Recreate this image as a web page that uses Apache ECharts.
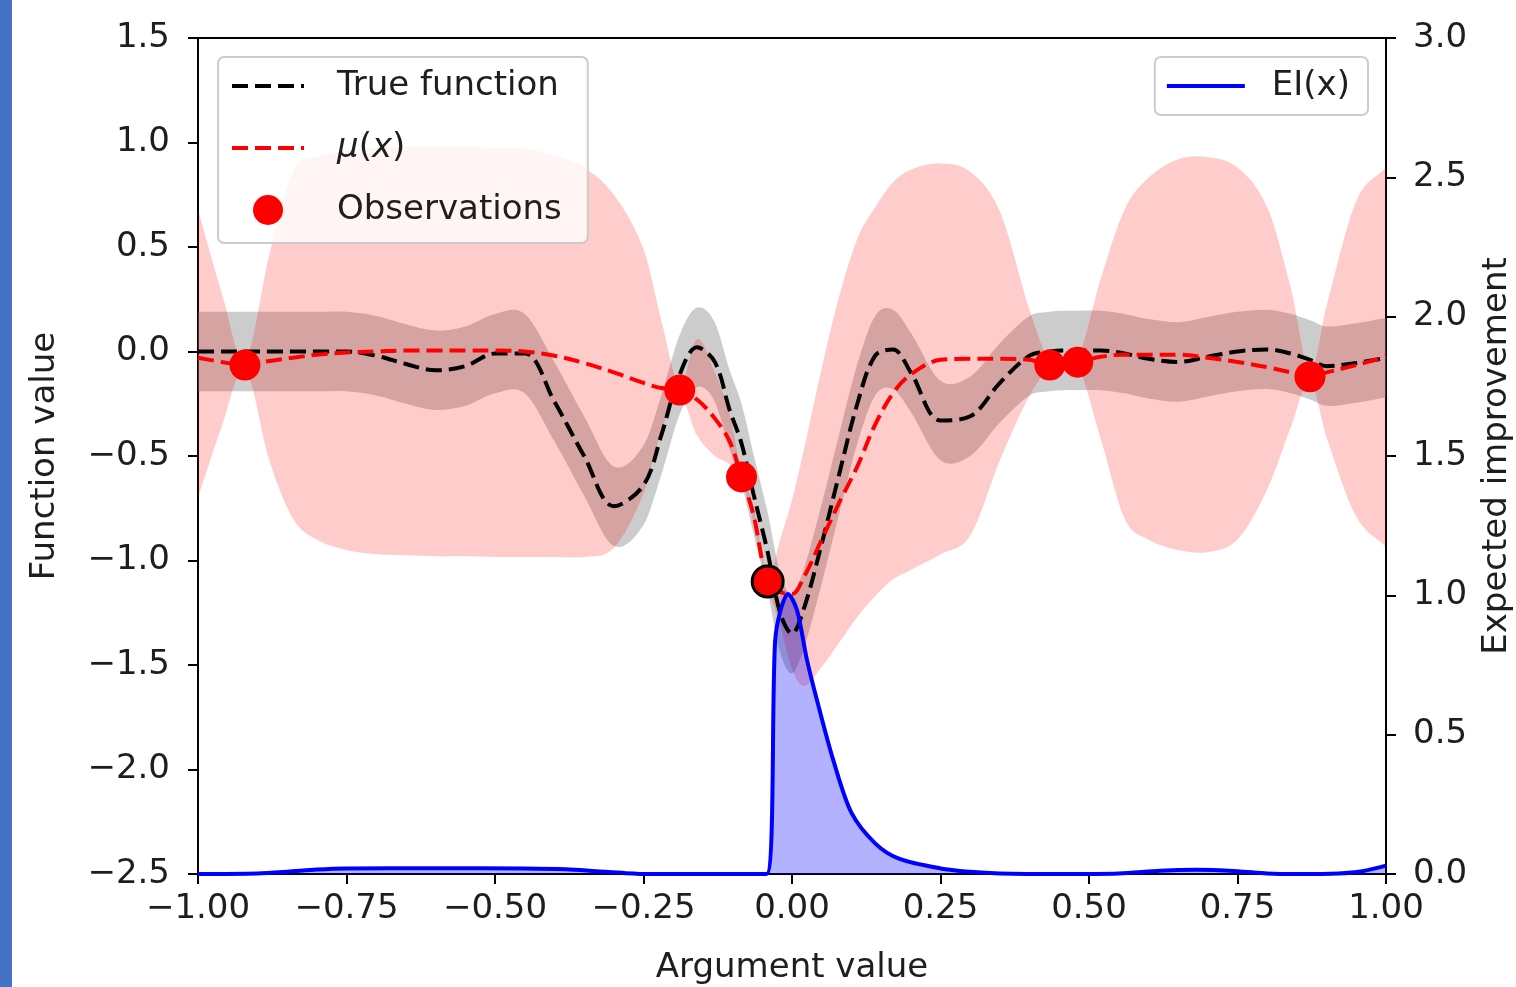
<!DOCTYPE html>
<html>
<head>
<meta charset="utf-8">
<title>Bayesian optimisation step</title>
<script src="https://cdn.jsdelivr.net/npm/echarts/dist/echarts.min.js"></script>
<style>
  html, body { margin: 0; padding: 0; background: #fff; }
  #main { width: 1516px; height: 987px; }
</style>
</head>
<body>
<div id="main"></div>
<script>
// sample positions along the argument axis (pinches sit on the observations)
const xGrid = [-1.0, -0.96, -0.921, -0.88, -0.84, -0.8, -0.75, -0.7, -0.65, -0.6,
  -0.55, -0.5, -0.45, -0.4, -0.35, -0.3, -0.25, -0.22, -0.189, -0.16,
  -0.13, -0.105, -0.085, -0.065, -0.041, -0.02, 0.0, 0.02, 0.05, 0.08,
  0.11, 0.14, 0.17, 0.2, 0.25, 0.3, 0.35, 0.4, 0.434, 0.456,
  0.481, 0.52, 0.56, 0.6, 0.65, 0.7, 0.75, 0.8, 0.84, 0.872,
  0.9, 0.95, 1.0];

const trueFn = [0.0, 0.0, 0.0, 0.0, 0.0, 0.0, 0.0, -0.02, -0.06, -0.09,
  -0.07, -0.01, -0.01, -0.24, -0.5, -0.74, -0.64, -0.4, -0.11, 0.02,
  -0.05, -0.28, -0.44, -0.68, -0.96, -1.25, -1.35, -1.23, -0.92, -0.58,
  -0.25, -0.02, 0.01, -0.1, -0.33, -0.31, -0.15, -0.02, 0.0, 0.005,
  0.005, 0.005, -0.01, -0.035, -0.05, -0.025, 0.0, 0.01, -0.01, -0.04,
  -0.07, -0.055, -0.03];

// noise band around the true function
const grayHi = [0.19, 0.19, 0.19, 0.19, 0.19, 0.19, 0.19, 0.17, 0.13, 0.1,
  0.12, 0.18, 0.18, -0.05, -0.31, -0.55, -0.45, -0.21, 0.08, 0.21,
  0.14, -0.09, -0.25, -0.49, -0.77, -1.06, -1.16, -1.04, -0.73, -0.39,
  -0.06, 0.17, 0.2, 0.09, -0.14, -0.12, 0.04, 0.17, 0.19, 0.195,
  0.195, 0.195, 0.18, 0.155, 0.14, 0.165, 0.19, 0.2, 0.18, 0.15,
  0.12, 0.135, 0.16];
const grayLo = [-0.19, -0.19, -0.19, -0.19, -0.19, -0.19, -0.19, -0.21, -0.25, -0.28,
  -0.26, -0.2, -0.2, -0.43, -0.69, -0.93, -0.83, -0.59, -0.3, -0.17,
  -0.24, -0.47, -0.63, -0.87, -1.15, -1.44, -1.54, -1.42, -1.11, -0.77,
  -0.44, -0.21, -0.18, -0.29, -0.52, -0.5, -0.34, -0.21, -0.19, -0.185,
  -0.185, -0.185, -0.2, -0.225, -0.24, -0.215, -0.19, -0.18, -0.2, -0.23,
  -0.26, -0.245, -0.22];

const muVals = [-0.03, -0.05, -0.065, -0.045, -0.03, -0.015, -0.005, 0.0, 0.005, 0.005,
  0.005, 0.005, 0.0, -0.02, -0.055, -0.1, -0.15, -0.175, -0.184, -0.23,
  -0.32, -0.43, -0.6, -0.78, -1.1, -1.15, -1.16, -1.08, -0.9, -0.72,
  -0.55, -0.35, -0.2, -0.11, -0.04, -0.035, -0.035, -0.04, -0.065, -0.055,
  -0.05, -0.025, -0.015, -0.015, -0.015, -0.03, -0.05, -0.075, -0.1, -0.12,
  -0.1, -0.065, -0.025];

// confidence band of the surrogate
const pinkHi = [0.68, 0.28, -0.045, 0.46, 0.86, 0.93, 0.96, 0.975, 0.98, 0.98,
  0.98, 0.975, 0.97, 0.94, 0.88, 0.75, 0.49, 0.15, -0.16, 0.06,
  -0.1, -0.3, -0.58, -0.74, -1.08, -0.9, -0.71, -0.47, -0.08, 0.27,
  0.54, 0.69, 0.81, 0.87, 0.9, 0.86, 0.67, 0.2, -0.05, -0.03,
  -0.035, 0.35, 0.68, 0.83, 0.92, 0.93, 0.88, 0.69, 0.3, -0.1,
  0.22, 0.72, 0.88];
const pinkLo = [-0.7, -0.36, -0.085, -0.52, -0.8, -0.9, -0.95, -0.97, -0.975, -0.98,
  -0.98, -0.983, -0.983, -0.983, -0.983, -0.94, -0.68, -0.38, -0.21, -0.4,
  -0.5, -0.54, -0.62, -0.82, -1.12, -1.31, -1.52, -1.6, -1.51, -1.39,
  -1.27, -1.17, -1.09, -1.045, -0.97, -0.88, -0.52, -0.21, -0.08, -0.08,
  -0.065, -0.42, -0.8, -0.9, -0.95, -0.96, -0.9, -0.66, -0.36, -0.14,
  -0.41, -0.79, -0.935];

const obsX = [-0.921, -0.189, -0.085, 0.434, 0.481, 0.872, -0.041];
const obsY = [-0.065, -0.184, -0.6, -0.065, -0.051, -0.121, -1.1];

// expected improvement (right axis)
const eiX = [-1.0, -0.9, -0.85, -0.8, -0.75, -0.6, -0.45, -0.38, -0.33, -0.28,
  -0.24, -0.1, -0.0428, -0.0286, -0.02, -0.007, 0.0084, 0.025, 0.042, 0.07,
  0.1, 0.14, 0.18, 0.25, 0.3, 0.35, 0.45, 0.55, 0.62, 0.68,
  0.75, 0.8, 0.85, 0.92, 0.96, 1.0];
const eiY = [0, 0.002, 0.008, 0.016, 0.02, 0.021, 0.02, 0.017, 0.01, 0.003,
  0, 0, 0, 0.83, 0.94, 1.005, 0.947, 0.77, 0.624, 0.405,
  0.22, 0.11, 0.055, 0.02, 0.008, 0.002, 0, 0.002, 0.012, 0.015,
  0.01, 0.002, 0, 0.002, 0.01, 0.03];

const FONT = 'DejaVu Sans';
const TXT = '#1e1e1e';
const DASH = [16, 7];

function fmt(v, d) {
  const s = Math.abs(v).toFixed(d);
  return v < -1e-9 ? '\u2212' + s : s;
}
function pairs(ys) {
  return xGrid.map((x, i) => [x, ys[i]]);
}

// smooth svg path through pixel points, control points kept inside each x step
function curvePath(pts, start) {
  let d = (start ? 'M' : 'L') + pts[0][0] + ',' + pts[0][1];
  for (let i = 0; i < pts.length - 1; i++) {
    const p0 = pts[Math.max(i - 1, 0)], p1 = pts[i], p2 = pts[i + 1];
    const p3 = pts[Math.min(i + 2, pts.length - 1)];
    const d01 = Math.abs(p1[0] - p0[0]), d12 = Math.abs(p2[0] - p1[0]);
    const d23 = Math.abs(p3[0] - p2[0]);
    const a = (d01 + d12) > 0 ? d12 / (d01 + d12) / 3 : 0;
    const b = (d12 + d23) > 0 ? d12 / (d12 + d23) / 3 : 0;
    const c1 = [p1[0] + (p2[0] - p0[0]) * a, p1[1] + (p2[1] - p0[1]) * a];
    const c2 = [p2[0] - (p3[0] - p1[0]) * b, p2[1] - (p3[1] - p1[1]) * b];
    d += 'C' + c1[0] + ',' + c1[1] + ' ' + c2[0] + ',' + c2[1] + ' ' + p2[0] + ',' + p2[1];
  }
  return d;
}

function band(name, lo, hi, fill) {
  return {
    name: name,
    type: 'custom',
    silent: true,
    clip: true,
    data: xGrid.map((x, i) => [x, lo[i], hi[i]]),
    encode: { x: 0, y: [1, 2] },
    renderItem: function (params, api) {
      if (params.dataIndex !== 0) return null;
      const top = xGrid.map((x, i) => api.coord([x, hi[i]]));
      const bot = xGrid.map((x, i) => api.coord([x, lo[i]])).reverse();
      const d = curvePath(top, true) + curvePath(bot, false) + 'Z';
      return {
        type: 'path',
        shape: { pathData: d },
        style: { fill: fill }
      };
    }
  };
}

const chart = echarts.init(document.getElementById('main'));

const obsData = obsX.map((x, i) => {
  const item = { value: [x, obsY[i]] };
  if (i === obsX.length - 1) {
    item.itemStyle = { borderColor: '#000', borderWidth: 3 };
  }
  return item;
});

const noSymbol = { opacity: 0 };

const option = {
  animation: false,
  backgroundColor: '#fff',
  textStyle: { fontFamily: FONT },
  graphic: [{
    type: 'rect',
    shape: { x: 0, y: 0, width: 12, height: 987 },
    style: { fill: '#4472c4' }
  }],
  grid: {
    left: 198, right: 130, top: 38, bottom: 113,
    show: true, borderColor: '#000', borderWidth: 2,
    backgroundColor: 'transparent',
    containLabel: false,
    outerBoundsMode: 'none'
  },
  legend: [{
    data: [
      { name: 'True function', itemStyle: noSymbol },
      { name: 'μ(x)', itemStyle: noSymbol },
      { name: 'Observations' }
    ],
    orient: 'vertical',
    left: 218, top: 57,
    padding: [12, 26, 16, 12],
    itemWidth: 72, itemHeight: 30, itemGap: 28,
    backgroundColor: 'rgba(255,255,255,0.8)',
    borderColor: '#cccccc', borderWidth: 2, borderRadius: 6,
    lineStyle: { width: 4 },
    formatter: name => name === 'μ(x)' ? '{it|μ}({it|x})' : name,
    textStyle: {
      fontFamily: FONT, fontSize: 34, color: TXT, lineHeight: 30,
      padding: [0, 0, 0, 28],
      rich: { it: { fontFamily: FONT, fontSize: 34, fontStyle: 'italic', color: TXT } }
    }
  }, {
    data: [{ name: 'EI(x)', itemStyle: noSymbol }],
    orient: 'vertical',
    right: 148, top: 57,
    padding: [12, 18, 12, 10],
    itemWidth: 78, itemHeight: 30,
    backgroundColor: 'rgba(255,255,255,0.8)',
    borderColor: '#cccccc', borderWidth: 2, borderRadius: 6,
    lineStyle: { width: 4 },
    textStyle: {
      fontFamily: FONT, fontSize: 34, color: TXT, lineHeight: 30,
      padding: [0, 0, 0, 22]
    }
  }],
  xAxis: {
    type: 'value',
    min: -1, max: 1, interval: 0.25,
    name: 'Argument value',
    nameLocation: 'middle',
    nameGap: 77,
    nameTextStyle: { fontFamily: FONT, fontSize: 34, color: TXT },
    axisLine: { onZero: false, lineStyle: { color: '#000', width: 2 } },
    axisTick: { length: 10, lineStyle: { color: '#000', width: 2 } },
    axisLabel: {
      margin: 18, fontFamily: FONT, fontSize: 34, color: TXT,
      showMinLabel: true, showMaxLabel: true,
      formatter: v => fmt(v, 2)
    },
    splitLine: { show: false }
  },
  yAxis: [{
    type: 'value',
    min: -2.5, max: 1.5, interval: 0.5,
    name: 'Function value',
    nameLocation: 'middle',
    nameGap: 136,
    nameTextStyle: { fontFamily: FONT, fontSize: 34, color: TXT },
    axisLine: { show: true, onZero: false, lineStyle: { color: '#000', width: 2 } },
    axisTick: { show: true, length: 10, lineStyle: { color: '#000', width: 2 } },
    axisLabel: {
      margin: 28, fontFamily: FONT, fontSize: 34, color: TXT,
      showMinLabel: true, showMaxLabel: true,
      formatter: v => fmt(v, 1)
    },
    splitLine: { show: false }
  }, {
    type: 'value',
    position: 'right',
    min: 0, max: 3, interval: 0.5,
    name: 'Expected improvement',
    nameLocation: 'middle',
    nameGap: 94,
    nameTextStyle: { fontFamily: FONT, fontSize: 34, color: TXT },
    axisLine: { show: true, onZero: false, lineStyle: { color: '#000', width: 2 } },
    axisTick: { show: true, length: 10, lineStyle: { color: '#000', width: 2 } },
    axisLabel: {
      margin: 27, fontFamily: FONT, fontSize: 34, color: TXT,
      showMinLabel: true, showMaxLabel: true,
      formatter: v => fmt(v, 1)
    },
    splitLine: { show: false }
  }],
  series: [
    band('noise band', grayLo, grayHi, 'rgba(128,128,128,0.4)'),
    band('confidence band', pinkLo, pinkHi, 'rgba(255,0,0,0.2)'),
    {
      name: 'True function',
      type: 'line',
      symbol: 'none',
      smooth: 0.35,
      data: pairs(trueFn),
      itemStyle: { color: '#000' },
      lineStyle: { color: '#000', width: 4, type: DASH }
    },
    {
      name: 'μ(x)',
      type: 'line',
      symbol: 'none',
      smooth: 0.35,
      data: pairs(muVals),
      itemStyle: { color: '#ff0000' },
      lineStyle: { color: '#ff0000', width: 4, type: DASH }
    },
    {
      name: 'Observations',
      type: 'scatter',
      symbol: 'circle',
      symbolSize: 31,
      data: obsData,
      itemStyle: { color: '#ff0000', opacity: 1 },
      z: 4
    },
    {
      name: 'EI(x)',
      type: 'line',
      yAxisIndex: 1,
      symbol: 'none',
      smooth: 0.3,
      data: eiX.map((x, i) => [x, eiY[i]]),
      itemStyle: { color: '#0000ff' },
      lineStyle: { color: '#0000ff', width: 4 },
      areaStyle: { color: 'rgba(0,0,255,0.3)', opacity: 1 },
      z: 3
    }
  ]
};

chart.setOption(option);
window.onresize = chart.resize;
</script>
</body>
</html>
